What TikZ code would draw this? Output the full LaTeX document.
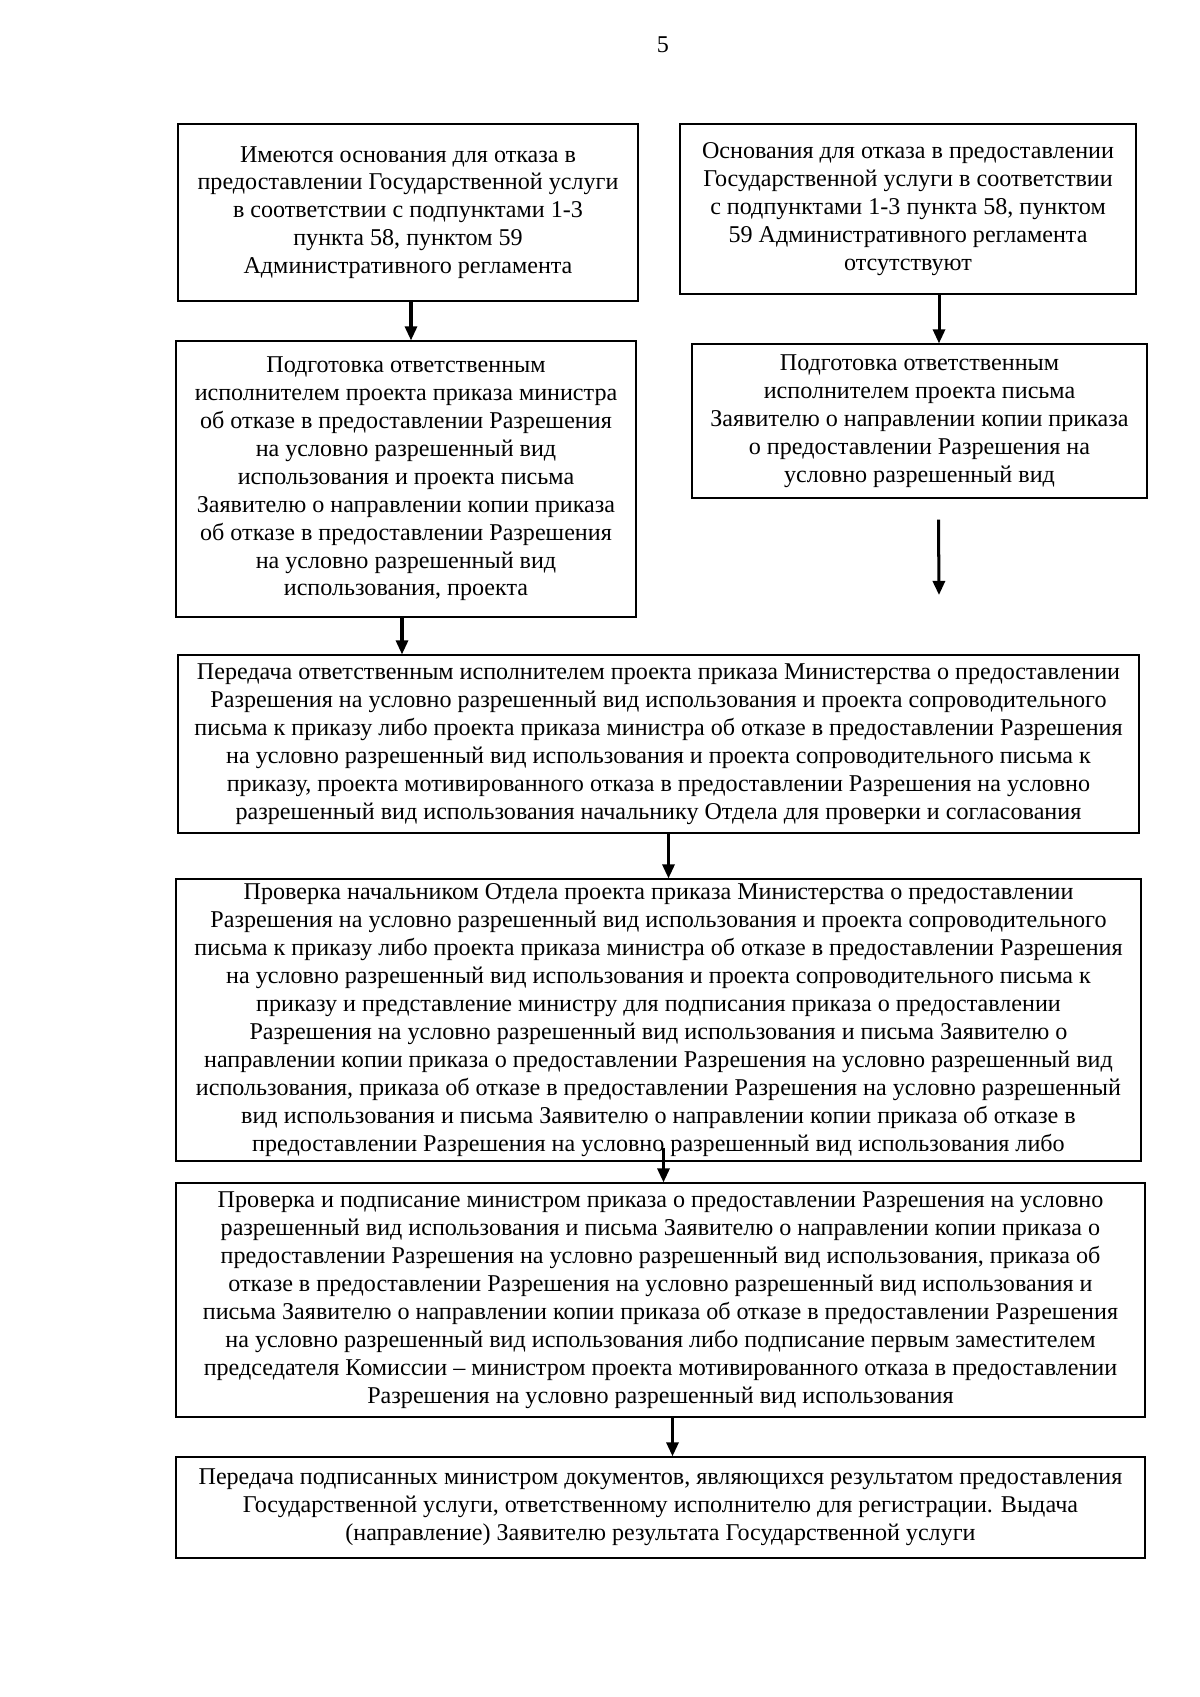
\documentclass[tikz,border=0pt]{standalone}
\usepackage{fontspec}
\setmainfont{Liberation Serif}
\usepackage{tikz}
\usetikzlibrary{arrows.meta, positioning, calc}
\tikzset{
  box/.style={rectangle, draw=black, line width=0.6pt, align=center,
    font=\fontsize{12}{13.9}\selectfont, inner xsep=2pt, inner ysep=1pt},
  arrow/.style={-{Triangle[width=6pt,length=7pt]}, line width=1.5pt, color=black},
  pagenum/.style={font=\fontsize{12}{14}\selectfont, inner sep=0pt}
}
\begin{document}
\begin{tikzpicture}[x=0.0175cm, y=-0.0175cm]
  \useasboundingbox (0,0) rectangle (1200,1697);

  \node[pagenum] (pg) at (663,45) {5};

  % two branches
  \node[box, minimum width=8.05cm, minimum height=3.10cm] (a) at (408,212.5)
    {Имеются основания для отказа в\\
     предоставлении Государственной услуги\\
     в соответствии с подпунктами 1-3\\
     пункта 58, пунктом 59\\
     Административного регламента};
  \node[box, minimum width=7.98cm, minimum height=2.975cm] (b) at (908,209)
    {Основания для отказа в предоставлении\\
     Государственной услуги в соответствии\\
     с подпунктами 1-3 пункта 58, пунктом\\
     59 Административного регламента\\
     отсутствуют};

  \node[box, minimum width=8.05cm, minimum height=4.83cm] (c) at (406,479)
    {Подготовка ответственным\\
     исполнителем проекта приказа министра\\
     об отказе в предоставлении Разрешения\\
     на условно разрешенный вид\\
     использования и проекта письма\\
     Заявителю о направлении копии приказа\\
     об отказе в предоставлении Разрешения\\
     на условно разрешенный вид\\
     использования, проекта};
  \node[box, minimum width=7.96cm, minimum height=2.695cm] (d) at (919.5,421)
    {Подготовка ответственным\\
     исполнителем проекта письма\\
     Заявителю о направлении копии приказа\\
     о предоставлении Разрешения на\\
     условно разрешенный вид};

  % common part
  \node[box, minimum width=16.82cm, minimum height=3.115cm] (e) at (658.5,744)
    {Передача ответственным исполнителем проекта приказа Министерства о предоставлении\\
     Разрешения на условно разрешенный вид использования и проекта сопроводительного\\
     письма к приказу либо проекта приказа министра об отказе в предоставлении Разрешения\\
     на условно разрешенный вид использования и проекта сопроводительного письма к\\
     приказу, проекта мотивированного отказа в предоставлении Разрешения на условно\\
     разрешенный вид использования начальнику Отдела для проверки и согласования};
  \node[box, minimum width=16.89cm, minimum height=4.935cm, inner ysep=0pt] (f) at (658.5,1020)
    {Проверка начальником Отдела проекта приказа Министерства о предоставлении\\
     Разрешения на условно разрешенный вид использования и проекта сопроводительного\\
     письма к приказу либо проекта приказа министра об отказе в предоставлении Разрешения\\
     на условно разрешенный вид использования и проекта сопроводительного письма к\\
     приказу и представление министру для подписания приказа о предоставлении\\
     Разрешения на условно разрешенный вид использования и письма Заявителю о\\
     направлении копии приказа о предоставлении Разрешения на условно разрешенный вид\\
     использования, приказа об отказе в предоставлении Разрешения на условно разрешенный\\
     вид использования и письма Заявителю о направлении копии приказа об отказе в\\
     предоставлении Разрешения на условно разрешенный вид использования либо};
  \node[box, minimum width=16.96cm, minimum height=4.095cm] (g) at (660.5,1300)
    {Проверка и подписание министром приказа о предоставлении Разрешения на условно\\
     разрешенный вид использования и письма Заявителю о направлении копии приказа о\\
     предоставлении Разрешения на условно разрешенный вид использования, приказа об\\
     отказе в предоставлении Разрешения на условно разрешенный вид использования и\\
     письма Заявителю о направлении копии приказа об отказе в предоставлении Разрешения\\
     на условно разрешенный вид использования либо подписание первым заместителем\\
     председателя Комиссии -- министром проекта мотивированного отказа в предоставлении\\
     Разрешения на условно разрешенный вид использования};
  \node[box, minimum width=16.96cm, minimum height=1.77cm] (h) at (660.5,1507.5)
    {Передача подписанных министром документов, являющихся результатом предоставления\\
     Государственной услуги, ответственному исполнителю для регистрации. Выдача\\
     (направление) Заявителю результата Государственной услуги};

  \coordinate (ab) at ($(a.south)+(3,0)$);
  \coordinate (bd) at ($(b.south)+(31,0)$);
  \coordinate (d1) at ($(d.south)+(19,21)$);
  \coordinate (d2) at (939,595);
  \coordinate (ce) at ($(c.south)+(-4,0)$);
  \coordinate (ef) at ($(e.south)+(10,0)$);
  \coordinate (fg) at ($(f.south)+(5,-14)$);
  \coordinate (gh) at ($(g.south)+(12,0)$);

  \draw[arrow] (ab) -- (ab |- c.north);
  \draw[arrow] (bd) -- (bd |- d.north);
  \draw[arrow] (d1) -- (d2);
  \draw[arrow] (ce) -- (ce |- e.north);
  \draw[arrow] (ef) -- (ef |- f.north);
  \draw[arrow] (fg) -- (fg |- g.north);
  \draw[arrow] (gh) -- (gh |- h.north);
\end{tikzpicture}
\end{document}
